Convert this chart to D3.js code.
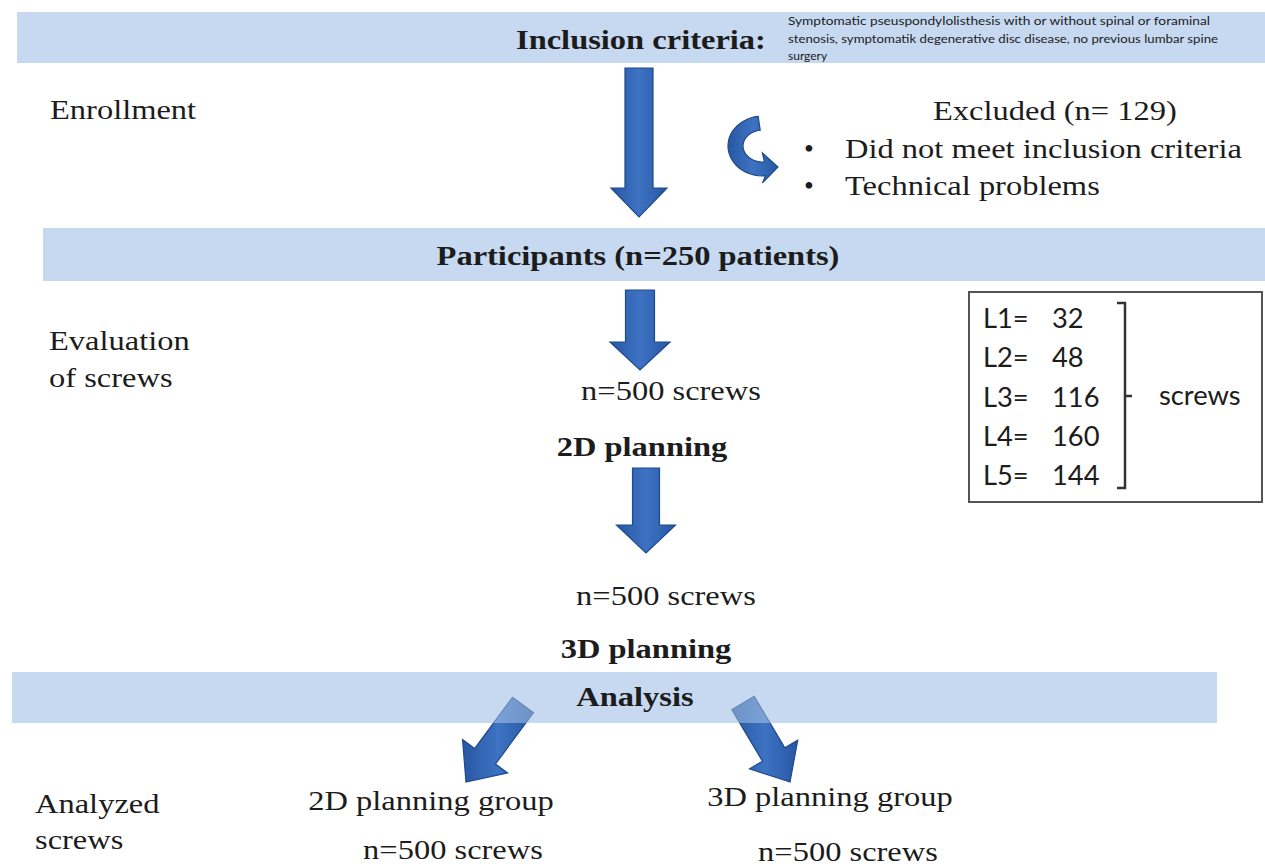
<!DOCTYPE html>
<html><head><meta charset="utf-8">
<script src="https://cdn.jsdelivr.net/npm/d3@7"></script>
<style>html,body{margin:0;padding:0;background:#fff;}svg{display:block;}</style>
</head><body>
<svg id="c" width="1265" height="866"></svg>
<script>
// ---------- data ----------
const inclusionTitle = "Inclusion criteria:";
const inclusionLines = [
  "Symptomatic pseuspondylolisthesis with or without spinal or foraminal",
  "stenosis, symptomatik degenerative disc disease, no previous lumbar spine",
  "surgery"
];
const excludedN = 129;
const exclusionReasons = ["Did not meet inclusion criteria", "Technical problems"];
const participantsN = 250;
const stageLabels = ["Enrollment", "Evaluation|of screws", "Analyzed|screws"];
const planningSteps = ["2D planning", "3D planning"];
const planningScrews = [500, 500];
const levels = ["L1", "L2", "L3", "L4", "L5"];
const levelScrews = [32, 48, 116, 160, 144];
const groups = ["2D planning group", "3D planning group"];
const groupScrews = [500, 500];

// ---------- drawing ----------
const svg = d3.select("#c");
const defs = svg.append("defs");
const grad = defs.append("linearGradient").attr("id","ag").attr("x1","0").attr("x2","1").attr("y1","0").attr("y2","0");
grad.append("stop").attr("offset","0").attr("stop-color","#2857a3");
grad.append("stop").attr("offset","0.5").attr("stop-color","#3d73c2");
grad.append("stop").attr("offset","1").attr("stop-color","#2857a3");

const BAND = "#c6d9f0";
const SERIF = "'Liberation Serif','Times New Roman',serif";
const SANS = "Lato,'Open Sans',sans-serif";
const STRETCH = 1.16;

function txt(g, s, x, y, o = {}) {
  const t = g.append("text").text(s)
    .attr("x", x).attr("y", y)
    .attr("font-family", o.family || SERIF)
    .attr("font-size", o.size || 28)
    .attr("font-weight", o.bold ? "bold" : "normal")
    .attr("fill", o.color || "#1c1c1c");
  const len = t.node().getComputedTextLength();
  const target = o.width || len * (o.stretch || STRETCH);
  t.attr("textLength", target).attr("lengthAdjust", "spacingAndGlyphs");
  if (o.center) t.attr("x", x - target / 2);
  return t;
}

function arrowPath(x0, y0, x1, y1, shaftW, headW, headL) {
  const dx = x1 - x0, dy = y1 - y0, L = Math.hypot(dx, dy);
  const ux = dx / L, uy = dy / L, px = -uy, py = ux;
  const hx = x1 - ux * headL, hy = y1 - uy * headL;
  const pts = [
    [x0 + px * shaftW / 2, y0 + py * shaftW / 2],
    [hx + px * shaftW / 2, hy + py * shaftW / 2],
    [hx + px * headW / 2, hy + py * headW / 2],
    [x1, y1],
    [hx - px * headW / 2, hy - py * headW / 2],
    [hx - px * shaftW / 2, hy - py * shaftW / 2],
    [x0 - px * shaftW / 2, y0 - py * shaftW / 2]
  ];
  return d3.line()(pts) + "Z";
}
function arrow(g, a) {
  g.append("path").attr("d", arrowPath(...a))
    .attr("fill", "url(#ag)").attr("stroke", "#1d4a8c").attr("stroke-width", 1.2)
    .attr("stroke-linejoin", "miter");
}

// bands
const bands = [
  {x: 17, y: 12, w: 1248, h: 51},
  {x: 43, y: 228, w: 1222, h: 53},
  {x: 12, y: 672, w: 1205, h: 51}
];
svg.selectAll("rect.band").data(bands).join("rect").attr("class","band")
  .attr("x", d => d.x).attr("y", d => d.y).attr("width", d => d.w).attr("height", d => d.h)
  .attr("fill", BAND);

const gA = svg.append("g");

// vertical arrows
arrow(gA, [639, 68, 639, 217, 28, 56, 29]);
arrow(gA, [640, 290, 640, 370, 29, 60, 28]);
arrow(gA, [646, 468, 646, 553, 27, 59, 28]);

// bottom diagonal arrows
arrow(gA, [523, 705, 466, 782, 26, 56, 32]);
arrow(gA, [743, 703, 790, 782, 26, 56, 32]);
// translucent overlay on analysis band so arrows look lighter inside it
gA.append("rect").attr("x", 12).attr("y", 672).attr("width", 1205).attr("height", 51)
  .attr("fill", BAND).attr("opacity", 0.45);

// curved arrow (C shape)
(function () {
  const cx = 763, cy = 146, ro = [35, 30], ri = [20, 16];
  const a0 = 262 * Math.PI / 180, a1 = 86 * Math.PI / 180;
  const n = 30, outer = [], inner = [];
  for (let i = 0; i <= n; i++) {
    const a = a0 + (a1 - a0) * i / n;
    outer.push([cx + ro[0] * Math.cos(a), cy + ro[1] * Math.sin(a)]);
    inner.push([cx + ri[0] * Math.cos(a), cy + ri[1] * Math.sin(a)]);
  }
  const eo = outer[n], ei = inner[n];
  const head = [[ei[0] - 2, ei[1] - 9], [778, 167], [eo[0] - 3, eo[1] + 7]];
  const pts = outer.concat([[eo[0], eo[1]], head[2], head[1], head[0]], inner.slice().reverse());
  gA.append("path").attr("d", d3.line()(pts) + "Z")
    .attr("fill", "url(#ag)").attr("stroke", "#1d4a8c").attr("stroke-width", 1.2);
})();

const g = svg.append("g");

// texts
txt(g, inclusionTitle, 516, 49, {bold: true});
inclusionLines.forEach((s, i) => {
  txt(g, s, 788, 25 + i * 17.5, {family: SANS, size: 12, stretch: 1.0,
    width: i === 0 ? 422 : (i === 1 ? 430 : null)});
});

const stageY = [[119], [350, 387], [813, 849]];
const stageX = [50, 49, 35];
stageLabels.forEach((s, i) => s.split("|").forEach((line, j) => txt(g, line, stageX[i], stageY[i][j])));

txt(g, `Excluded (n= ${excludedN})`, 933, 120);
exclusionReasons.forEach((s, i) => {
  const y = 158 + i * 37;
  txt(g, "\u2022", 804, y, {stretch: 1});
  txt(g, s, 845, y);
});

txt(g, `Participants (n=${participantsN} patients)`, 638, 265, {bold: true, center: true});
txt(g, `n=${planningScrews[0]} screws`, 671, 400, {center: true});
txt(g, planningSteps[0], 642, 456, {bold: true, center: true});
txt(g, `n=${planningScrews[1]} screws`, 666, 605, {center: true});
txt(g, planningSteps[1], 646, 658, {bold: true, center: true});
txt(g, "Analysis", 635, 706, {bold: true, center: true});

const groupCx = [431, 830];
const groupY = [[810, 859], [806, 861]];
groups.forEach((s, i) => {
  txt(g, s, groupCx[i], groupY[i][0], {center: true});
  txt(g, `n=${groupScrews[i]} screws`, groupCx[i] + 22 - i * 4, groupY[i][1], {center: true});
});

// level box
const box = svg.append("g");
box.append("rect").attr("x", 969).attr("y", 292).attr("width", 293).attr("height", 210)
  .attr("fill", "#fff").attr("stroke", "#555").attr("stroke-width", 2);
const yL = d3.scalePoint().domain(levels).range([328, 485]);
levels.forEach((l, i) => {
  txt(box, `${l}=`, 983, yL(l), {family: SANS, size: 26, stretch: 1.05});
  txt(box, String(levelScrews[i]), 1052, yL(l), {family: SANS, size: 26, stretch: 1.05});
});
box.append("path").attr("d", "M1117,303H1125V488H1117M1125,396H1132")
  .attr("fill", "none").attr("stroke", "#333").attr("stroke-width", 2.5);
txt(box, "screws", 1159, 405, {family: SANS, size: 26, stretch: 1.05});
</script>
</body></html>
